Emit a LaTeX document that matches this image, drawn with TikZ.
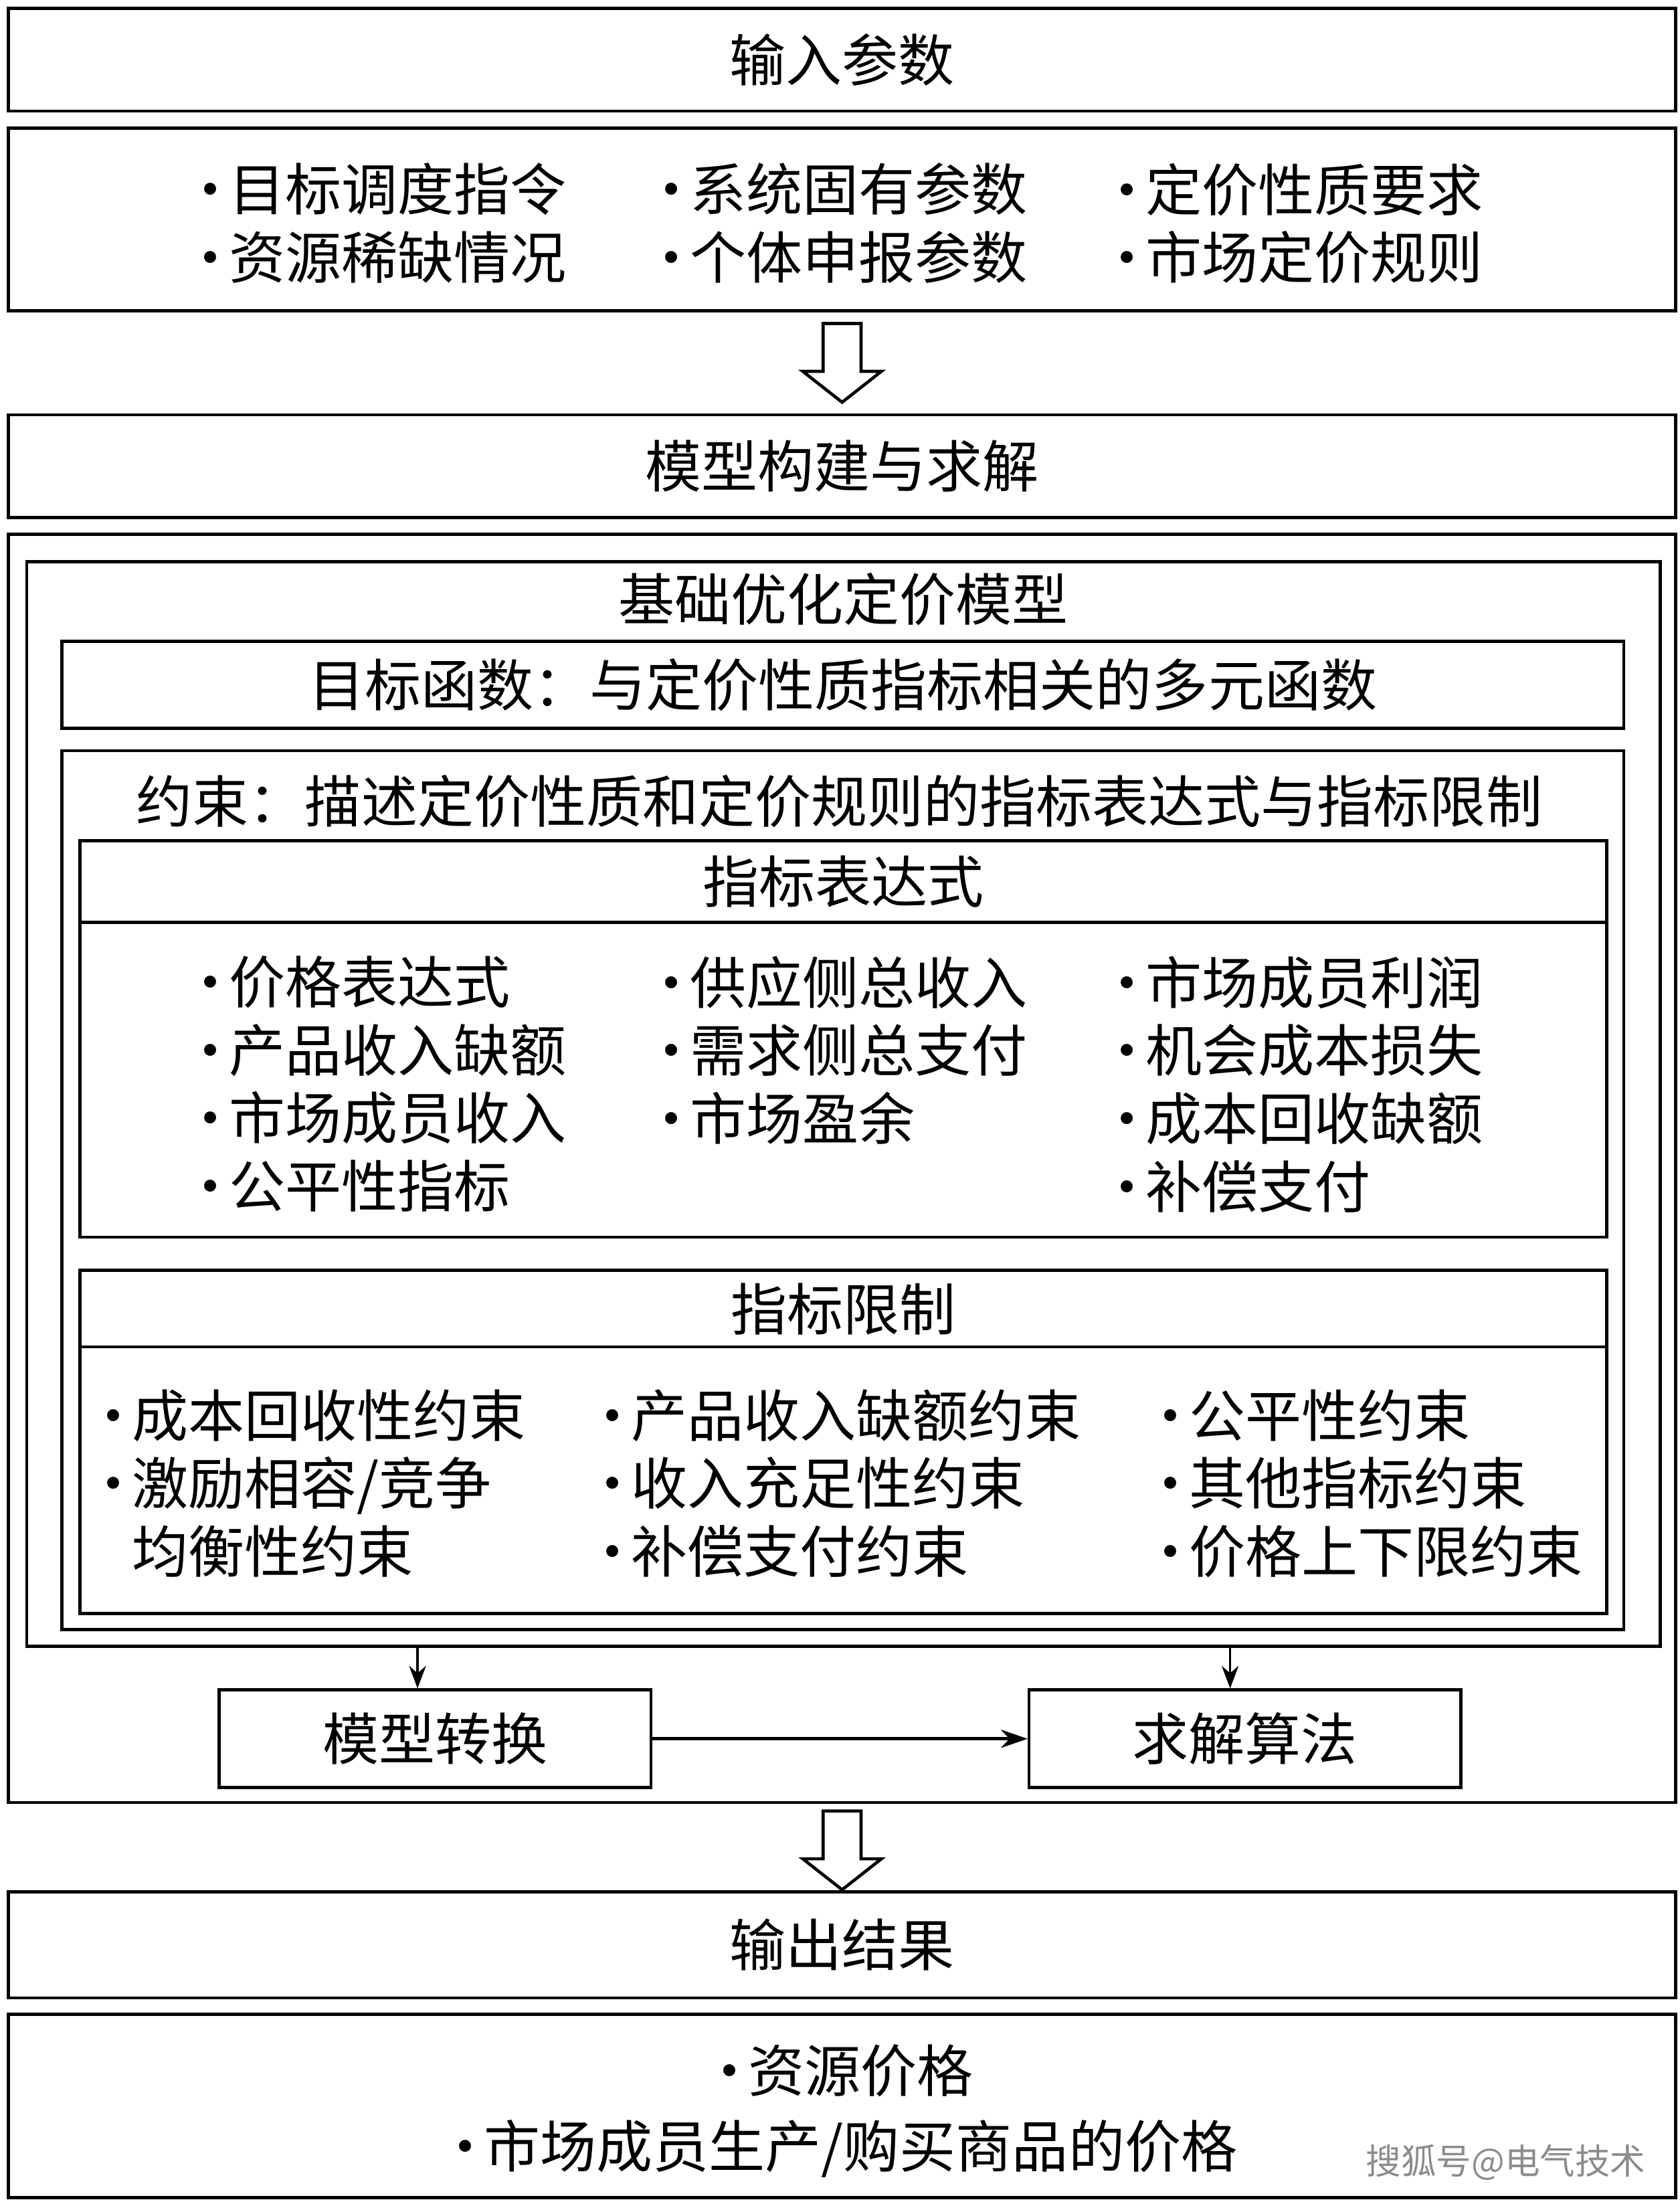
\documentclass[tikz,border=0pt]{standalone}
\usepackage{fontspec}
\setmainfont{Noto Sans CJK SC}
\usetikzlibrary{arrows.meta}

\newcommand\bul{\makebox[0.66em][c]{•}}

\begin{document}
\begin{tikzpicture}[x=0.5pt, y=-0.5pt,
  boxframe/.style={draw, line width=1.1pt, inner sep=0pt},
  fullbox/.style={boxframe, minimum width=593pt},
  txt/.style={inner sep=0pt, font=\fontsize{20}{24.2}\selectfont},
  itemcol/.style={txt, align=left},
  hollowarrow/.style={draw, line width=1.1pt, fill=white, line join=miter},
  downarr/.style={-{Stealth[length=8pt, width=6pt]}, line width=0.9pt},
  rightarr/.style={-{Stealth[length=9.5pt, width=6.5pt]}, line width=1.1pt}]

  \useasboundingbox (0,0) rectangle (1195,1570.5);

  \newcommand\XA{136}
  \newcommand\XB{464}
  \newcommand\XC{788}
  \newcommand\LA{67}
  \newcommand\LB{422}
  \newcommand\LC{819}

  % input
  \node[fullbox, txt, minimum height=36.5pt] (inhead) at (599,42.5) {输入参数};
  \node[fullbox, minimum height=65pt] (inparams) at (599,156) {};
  \node[itemcol, anchor=west] (inA) at (\XA,158.8) {\bul 目标调度指令\\\bul 资源稀缺情况};
  \node[itemcol, anchor=north west] (inB) at (inA.north west -| \XB,0) {\bul 系统固有参数\\\bul 个体申报参数};
  \node[itemcol, anchor=north west] (inC) at (inA.north west -| \XC,0) {\bul 定价性质要求\\\bul 市场定价规则};

  \draw[hollowarrow] (inparams.south) ++(-13.5,8) -- ++(27,0) -- ++(0,34) -- ++(14.5,0)
  -- ++(-28,22) -- ++(-28,-22) -- ++(14.5,0) -- cycle;

  % model
  \node[fullbox, txt, minimum height=36.5pt] (model) at (599,331.5) {模型构建与求解};
  \node[fullbox, minimum height=451pt] (outer) at (599,831) {};
  \node[boxframe, minimum width=581pt, minimum height=385.75pt] (basic) at (600,785.25) {};
  \node[txt] (basictitle) at (600,426) {基础优化定价模型};

  \node[boxframe, txt, minimum width=555.5pt, minimum height=31pt] (objective) at (599.5,487)
  {目标函数：与定价性质指标相关的多元函数};

  \node[boxframe, minimum width=555.5pt, minimum height=312.5pt] (constraint) at (599.5,846.5) {};
  \node[txt] (constrainttitle) at (597,570) {约束：描述定价性质和定价规则的指标表达式与指标限制};

  \node[boxframe, minimum width=543pt, minimum height=141pt] (expr) at (600,739) {};
  \node[txt] (exprtitle) at (600,627) {指标表达式};
  \coordinate (exprsep) at (600,656);
  \draw[line width=1.1pt] (expr.west |- exprsep) -- (expr.east |- exprsep);
  \node[itemcol, anchor=west] (exprA) at (\XA,771)
  {\bul 价格表达式\\\bul 产品收入缺额\\\bul 市场成员收入\\\bul 公平性指标};
  \node[itemcol, anchor=north west] (exprB) at (exprA.north west -| \XB,0)
  {\bul 供应侧总收入\\\bul 需求侧总支付\\\bul 市场盈余};
  \node[itemcol, anchor=north west] (exprC) at (exprA.north west -| \XC,0)
  {\bul 市场成员利润\\\bul 机会成本损失\\\bul 成本回收缺额\\\bul 补偿支付};

  \node[boxframe, minimum width=543pt, minimum height=122pt] (limits) at (600,1025.5) {};
  \node[txt] (limitstitle) at (600,931) {指标限制};
  \coordinate (limitssep) at (600,958);
  \draw[line width=1.1pt] (limits.west |- limitssep) -- (limits.east |- limitssep);
  \node[itemcol, anchor=west] (limA) at (\LA,1055)
  {\bul 成本回收性约束\\\bul 激励相容/竞争\\\phantom{\bul}均衡性约束};
  \node[itemcol, anchor=north west] (limB) at (limA.north west -| \LB,0)
  {\bul 产品收入缺额约束\\\bul 收入充足性约束\\\bul 补偿支付约束};
  \node[itemcol, anchor=north west] (limC) at (limA.north west -| \LC,0)
  {\bul 公平性约束\\\bul 其他指标约束\\\bul 价格上下限约束};

  % transform and solve
  \node[boxframe, txt, minimum width=153.5pt, minimum height=34.75pt] (transform) at (309.5,1236.75) {模型转换};
  \node[boxframe, txt, minimum width=153.5pt, minimum height=34.75pt] (solve) at (885.5,1236.75) {求解算法};
  \coordinate (transformin) at (297,1171);
  \coordinate (solvein) at (875,1171);
  \draw[downarr] (basic.south -| transformin) -- (transform.north -| transformin);
  \draw[downarr] (basic.south -| solvein) -- (solve.north -| solvein);
  \draw[rightarr] (transform.east) -- (solve.west);

  \draw[hollowarrow] (outer.south) ++(-13.5,5) -- ++(27,0) -- ++(0,34) -- ++(14.5,0)
  -- ++(-28,22) -- ++(-28,-22) -- ++(14.5,0) -- cycle;

  % output
  \node[fullbox, txt, minimum height=37.7pt] (outhead) at (599,1383.3) {输出结果};
  \node[fullbox, minimum height=65.2pt] (outitems) at (599,1497.8) {};
  \node[txt, align=center, font=\fontsize{20}{27}\selectfont] (outtext) at (599,1501.6)
  {\bul 资源价格\\\bul 市场成员生产/购买商品的价格};
  \node[txt, text=black!45, font=\fontsize{12.5}{15}\selectfont] (mark) at (1071,1538) {搜狐号@电气技术};

\end{tikzpicture}
\end{document}
